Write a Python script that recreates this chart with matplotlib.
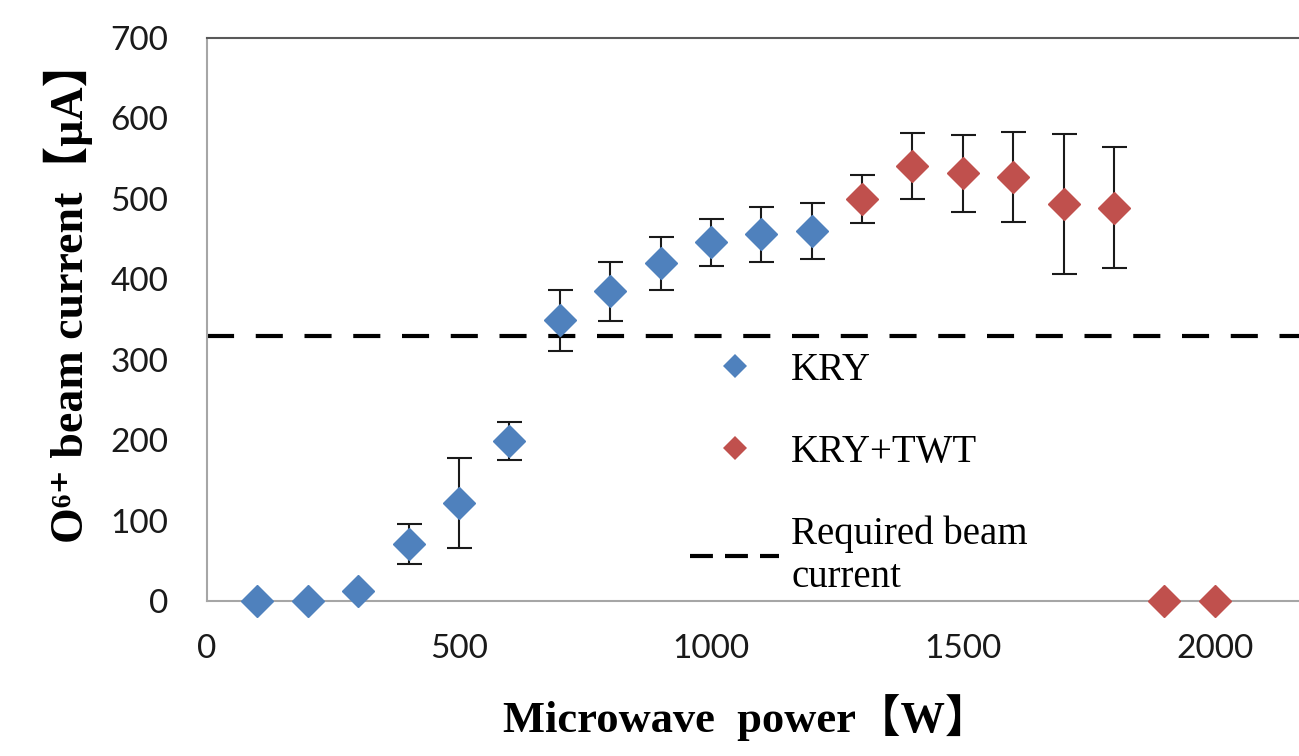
import matplotlib
matplotlib.use("Agg")
import matplotlib.pyplot as plt
from matplotlib.lines import Line2D

# --- data ---
kry_power = [100, 200, 300, 400, 500, 600, 700, 800, 900, 1000, 1100, 1200]
kry_current = [0, 0, 13, 71, 122, 199, 349, 385, 420, 446, 456, 460]
kry_err = [0, 0, 0, 25, 56, 24, 38, 37, 33, 29, 34, 35]

twt_power = [1300, 1400, 1500, 1600, 1700, 1800, 1900, 2000]
twt_current = [500, 541, 532, 527, 494, 489, 0, 0]
twt_err = [30, 41, 48, 56, 87, 75, 0, 0]

required_current = 330

x_ticks = [0, 500, 1000, 1500, 2000]
y_ticks = [0, 100, 200, 300, 400, 500, 600, 700]

BLUE = "#4F81BD"
RED = "#C0504D"
SERIF = ["Liberation Serif", "DejaVu Serif", "Noto Sans CJK JP"]
TICKFONT = "Lato"

fig = plt.figure(figsize=(12.99, 7.56), dpi=100)
ax = fig.add_axes([207 / 1299, 1 - 601 / 756, 1 - 207 / 1299, (601 - 38) / 756])

err_kw = dict(fmt="D", ms=16, ecolor="#1a1a1a", elinewidth=1.5,
              capsize=9, capthick=1.5, clip_on=False, zorder=3)
ax.errorbar(kry_power, kry_current, yerr=kry_err, color=BLUE, mec=BLUE,
            **err_kw)
ax.errorbar(twt_power, twt_current, yerr=twt_err, color=RED, mec=RED,
            **err_kw)

ax.axhline(required_current, color="black", lw=3, ls=(0, (6.5, 5.2)),
           dash_capstyle="butt", zorder=2)

ax.set_xlim(0, 2167)
ax.set_ylim(0, 700)
ax.set_xticks(x_ticks)
ax.set_yticks(y_ticks)
ax.tick_params(axis="x", length=0, labelsize=24, pad=24, colors="#1a1a1a")
ax.tick_params(axis="y", length=0, labelsize=24, pad=28, colors="#1a1a1a")
for lab in ax.get_xticklabels() + ax.get_yticklabels():
    lab.set_fontfamily(TICKFONT)

ax.spines["right"].set_visible(False)
ax.spines["top"].set_color("#595959")
ax.spines["top"].set_linewidth(1.5)
for s in ("left", "bottom"):
    ax.spines[s].set_color("#A6A6A6")
    ax.spines[s].set_linewidth(1.5)

ax.set_xlabel("Microwave  power【W】", family=SERIF, fontweight="bold",
              fontsize=32)
ax.xaxis.set_label_coords(0.4936, -0.165)
ax.set_ylabel("O⁶⁺ beam current【μA】", family=SERIF, fontweight="bold",
              fontsize=33)
ax.yaxis.set_label_coords(-0.104, 0.55)

handles = [
    Line2D([], [], ls="none", marker="D", ms=12, mew=0, color=BLUE),
    Line2D([], [], ls="none", marker="D", ms=12, mew=0, color=RED),
    Line2D([], [], color="black", lw=3, ls=(0, (5.5, 2.9)),
           dash_capstyle="butt"),
]
labels = ["KRY", "KRY+TWT", "Required beam\ncurrent"]
leg = ax.legend(handles, labels, loc="upper left",
                bbox_to_anchor=(483 / 1092, (601 - 352) / 563),
                frameon=False, prop={"family": SERIF, "size": 28},
                handlelength=2.3, handletextpad=0.3, labelspacing=1.15,
                borderaxespad=0, borderpad=0)

fig.savefig("out.png", dpi=100)
